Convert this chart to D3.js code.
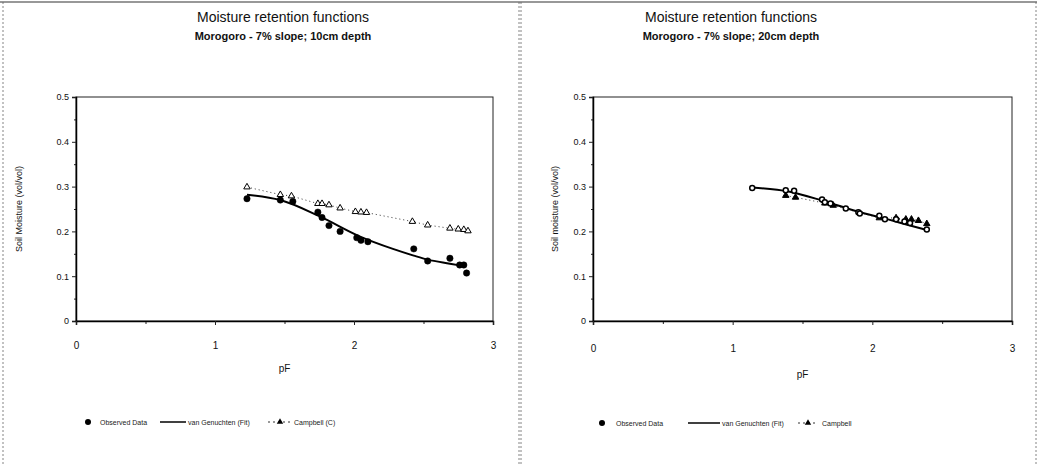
<!DOCTYPE html>
<html lang="en">
<head>
<meta charset="UTF-8">
<title>Moisture retention functions</title>
<script src="https://cdn.jsdelivr.net/npm/d3@7"></script>
<style>
  body { margin: 0; background: #fff; }
  svg { font-family: Arial, "Liberation Sans", sans-serif; }
</style>
</head>
<body>
<svg id="chart" width="1037" height="465"></svg>
<script>
// ---- 10cm depth ----
const obs10_pF    = [1.23, 1.47, 1.56, 1.74, 1.77, 1.82, 1.90, 2.02, 2.05, 2.10, 2.43, 2.53, 2.69, 2.76, 2.79, 2.81];
const obs10_theta = [0.273, 0.270, 0.267, 0.243, 0.231, 0.213, 0.200, 0.186, 0.180, 0.177, 0.161, 0.134, 0.140, 0.125, 0.125, 0.107];
const fit10_pF    = [1.23, 1.47, 1.75, 2.04, 2.28, 2.43, 2.53, 2.69, 2.80];
const fit10_theta = [0.282, 0.270, 0.234, 0.189, 0.161, 0.146, 0.137, 0.128, 0.122];
const camp10_pF    = [1.23, 1.47, 1.55, 1.74, 1.77, 1.82, 1.90, 2.01, 2.05, 2.09, 2.42, 2.53, 2.69, 2.75, 2.79, 2.82];
const camp10_theta = [0.299, 0.282, 0.279, 0.262, 0.262, 0.259, 0.252, 0.244, 0.243, 0.242, 0.222, 0.214, 0.207, 0.205, 0.204, 0.201];

// ---- 20cm depth ----
const obs20_pF    = [1.14, 1.38, 1.44, 1.64, 1.66, 1.70, 1.81, 1.90, 1.91, 2.05, 2.09, 2.17, 2.23, 2.27, 2.39];
const obs20_theta = [0.297, 0.292, 0.291, 0.271, 0.265, 0.262, 0.251, 0.243, 0.240, 0.235, 0.227, 0.227, 0.222, 0.219, 0.204];
const fit20_pF    = [1.14, 1.40, 1.65, 1.90, 2.10, 2.25, 2.39];
const fit20_theta = [0.298, 0.289, 0.268, 0.244, 0.228, 0.215, 0.203];
const camp20_pF    = [1.38, 1.45, 1.66, 1.72, 2.05, 2.17, 2.24, 2.28, 2.33, 2.39];
const camp20_theta = [0.280, 0.276, 0.263, 0.258, 0.230, 0.230, 0.227, 0.227, 0.224, 0.217];

const xTicks = [0, 1, 2, 3];
const yTicks = [0, 0.1, 0.2, 0.3, 0.4, 0.5];
const titleText = "Moisture retention functions";
const subtitles = ["Morogoro - 7% slope; 10cm depth", "Morogoro - 7% slope; 20cm depth"];
const yLabels = ["Soil Moisture (vol/vol)", "Soil moisture (vol/vol)"];
const legendLabels = [["Observed Data", "van Genuchten (Fit)", "Campbell (C)"],
                      ["Observed Data", "van Genuchten (Fit)", "Campbell"]];

const zip = (a, b) => a.map((v, i) => [v, b[i]]);

const panels = [
  { x0: 3, x1: 519, plot: { l: 76, r: 493, t: 97, b: 321 }, titleX: 283, xLabY: 349, pFY: 372,
    obs: zip(obs10_pF, obs10_theta), fit: zip(fit10_pF, fit10_theta), camp: zip(camp10_pF, camp10_theta),
    filledTri: false, hollowDots: false, yLabX: 22,
    legend: { y: 422, dot: 88, obsText: 100, line: [160, 186], fitText: 188, tri: 280, triLine: [268, 292], campText: 294 } },
  { x0: 521, x1: 1036, plot: { l: 593, r: 1012, t: 97, b: 321 }, titleX: 731, xLabY: 352, pFY: 378,
    obs: zip(obs20_pF, obs20_theta), fit: zip(fit20_pF, fit20_theta), camp: zip(camp20_pF, camp20_theta),
    filledTri: true, hollowDots: true, yLabX: 558,
    legend: { y: 423, dot: 602, obsText: 616, line: [688, 720], fitText: 722, tri: 808, triLine: [798, 818], campText: 822 } }
];

const svg = d3.select("#chart");

// dark top edge from the scan
svg.append("line").attr("x1", 0).attr("x2", 1037).attr("y1", 2).attr("y2", 2)
  .attr("stroke", "#333").attr("stroke-width", 1.2);

panels.forEach((p, i) => {
  const g = svg.append("g");

  // dotted panel frame
  [p.x0, p.x1].forEach(x => {
    g.append("line").attr("x1", x).attr("x2", x).attr("y1", 2).attr("y2", 465)
      .attr("stroke", "#666").attr("stroke-width", 0.8).attr("stroke-dasharray", "2,2");
  });

  const x = d3.scaleLinear().domain([0, 3]).range([p.plot.l, p.plot.r]);
  const y = d3.scaleLinear().domain([0, 0.5]).range([p.plot.b, p.plot.t]);

  // titles
  g.append("text").attr("x", p.titleX).attr("y", 22).attr("text-anchor", "middle")
    .attr("font-size", 14).attr("fill", "#111").text(titleText);
  g.append("text").attr("x", p.titleX).attr("y", 40).attr("text-anchor", "middle")
    .attr("font-size", 11).attr("font-weight", "bold").attr("fill", "#111").text(subtitles[i]);

  // plot frame
  g.append("rect").attr("x", p.plot.l).attr("y", p.plot.t)
    .attr("width", p.plot.r - p.plot.l).attr("height", p.plot.b - p.plot.t)
    .attr("fill", "none").attr("stroke", "#222").attr("stroke-width", 1);

  // minor ticks
  const yMinor = d3.range(0.05, 0.5, 0.1);
  g.append("g").attr("transform", `translate(${p.plot.l},0)`)
    .call(d3.axisLeft(y).tickValues(yMinor).tickSize(2).tickFormat(""))
    .call(a => a.select(".domain").remove());
  g.append("g").attr("transform", `translate(0,${p.plot.b})`)
    .call(d3.axisBottom(x).tickValues([0.5, 1.5, 2.5]).tickSize(3).tickFormat(""))
    .call(a => a.select(".domain").remove());

  // axes
  const yAxis = g.append("g").attr("transform", `translate(${p.plot.l},0)`)
    .call(d3.axisLeft(y).tickValues(yTicks).tickSize(4).tickPadding(3)
      .tickFormat(d => d === 0 ? "0" : d3.format(".1f")(d)));
  const xAxis = g.append("g").attr("transform", `translate(0,${p.plot.b})`)
    .call(d3.axisBottom(x).tickValues(xTicks).tickSize(4).tickFormat(d3.format("d")));
  xAxis.selectAll(".tick text").attr("y", null).attr("dy", null)
    .attr("transform", `translate(0,${p.xLabY - p.plot.b})`);
  [xAxis, yAxis].forEach(a => {
    a.select(".domain").attr("stroke", "#000").attr("stroke-width", 1.5);
    a.selectAll("text").attr("font-size", 10).attr("fill", "#111").attr("font-family", "Arial, 'Liberation Sans', sans-serif");
  });
  yAxis.selectAll("text").attr("font-size", 9);
  g.selectAll(".tick line").attr("stroke", "#222");

  // axis titles
  g.append("text").attr("x", (p.plot.l + p.plot.r) / 2).attr("y", p.pFY)
    .attr("text-anchor", "middle").attr("font-size", 10).attr("fill", "#111").text("pF");
  g.append("text").attr("transform", `translate(${p.yLabX},${(p.plot.t + p.plot.b) / 2}) rotate(-90)`)
    .attr("text-anchor", "middle").attr("font-size", 9).attr("fill", "#111").text(yLabels[i]);

  // Campbell: dotted line + triangles
  const line = d3.line().x(d => x(d[0])).y(d => y(d[1]));
  g.append("path").datum(p.camp).attr("d", line)
    .attr("fill", "none").attr("stroke", "#333").attr("stroke-width", 1).attr("stroke-dasharray", "1,3");

  // van Genuchten fit
  g.append("path").datum(p.fit).attr("d", line.curve(d3.curveMonotoneX))
    .attr("fill", "none").attr("stroke", "#000").attr("stroke-width", 2);

  const tri = d3.symbol().type(d3.symbolTriangle).size(18);
  g.selectAll(".camp").data(p.camp).enter().append("path")
    .attr("transform", d => `translate(${x(d[0])},${y(d[1])})`)
    .attr("d", tri)
    .attr("fill", p.filledTri ? "#000" : "#fff").attr("stroke", "#000").attr("stroke-width", 1);

  // observed points
  g.selectAll(".obs").data(p.obs).enter().append("circle")
    .attr("cx", d => x(d[0])).attr("cy", d => y(d[1]))
    .attr("r", p.hollowDots ? 2.5 : 3.2)
    .attr("fill", p.hollowDots ? "#fff" : "#000").attr("stroke", "#000").attr("stroke-width", p.hollowDots ? 1.5 : 0.5);

  // legend
  const L = p.legend;
  const lg = g.append("g").attr("font-size", 7).attr("fill", "#222");
  lg.append("circle").attr("cx", L.dot).attr("cy", L.y).attr("r", 3).attr("fill", "#000");
  lg.append("text").attr("x", L.obsText).attr("y", L.y + 2.5).text(legendLabels[i][0]);
  lg.append("line").attr("x1", L.line[0]).attr("x2", L.line[1]).attr("y1", L.y).attr("y2", L.y)
    .attr("stroke", "#000").attr("stroke-width", 1.5);
  lg.append("text").attr("x", L.fitText).attr("y", L.y + 2.5).text(legendLabels[i][1]);
  lg.append("line").attr("x1", L.triLine[0]).attr("x2", L.triLine[1]).attr("y1", L.y).attr("y2", L.y)
    .attr("stroke", "#333").attr("stroke-width", 1).attr("stroke-dasharray", "2,3");
  lg.append("path").attr("transform", `translate(${L.tri},${L.y})`).attr("d", tri).attr("fill", "#000");
  lg.append("text").attr("x", L.campText).attr("y", L.y + 2.5).text(legendLabels[i][2]);
});
</script>
</body>
</html>
